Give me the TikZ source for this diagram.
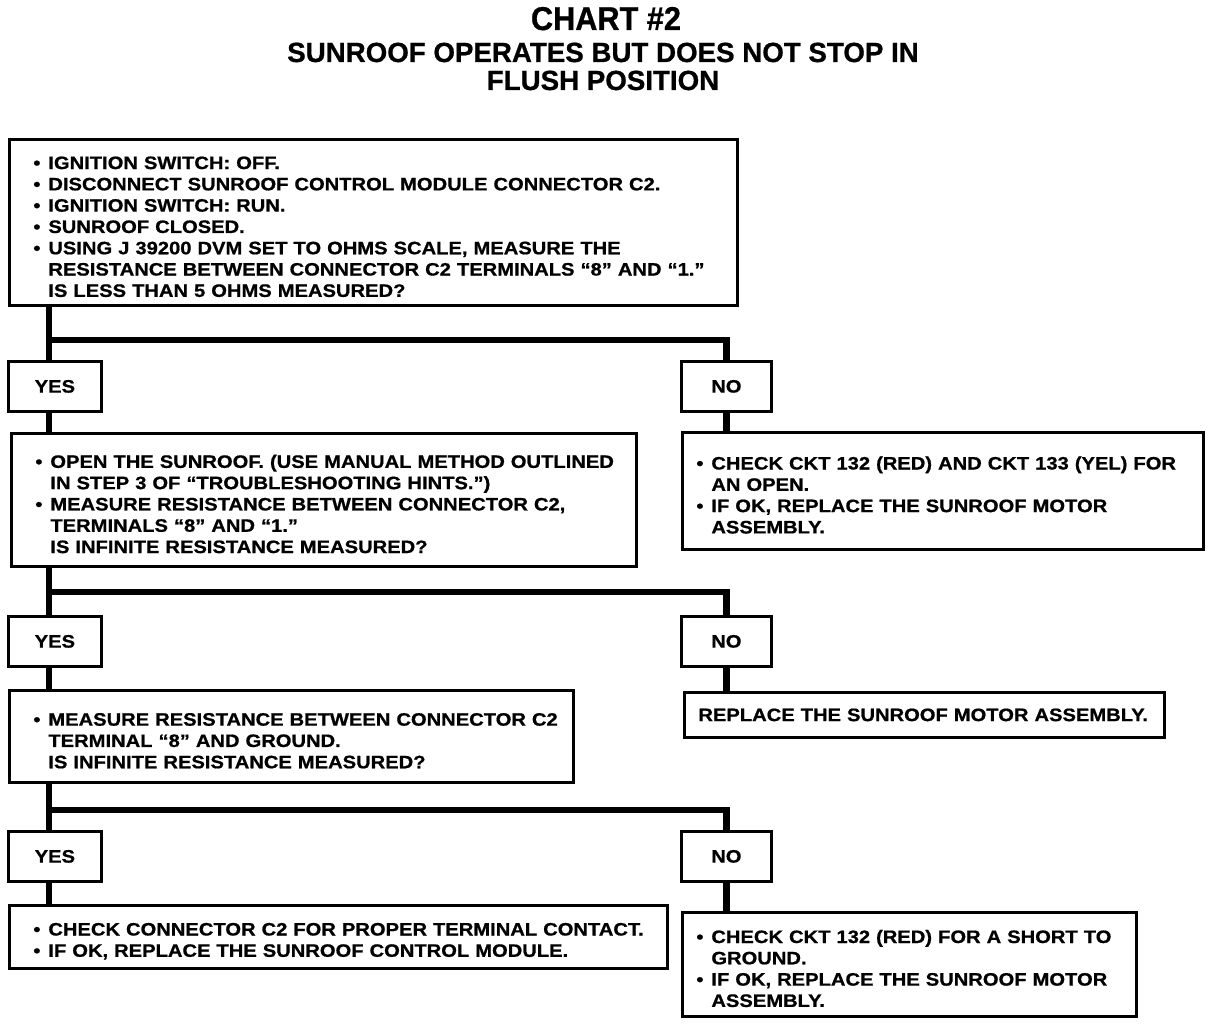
\documentclass[tikz,border=0pt]{standalone}
\usepackage{fontspec}
\usepackage{tikz}
\newfontfamily\chartfont{Liberation Sans}[FakeStretch = 1.12, BoldFeatures = {FakeBold = 0.8}]
\newfontfamily\headfont{Liberation Sans}[BoldFeatures = {FakeBold = 0.8}]
\newfontfamily\titlefont{Liberation Sans}[FakeStretch = 0.93, BoldFeatures = {FakeBold = 0.8}]
\newcommand{\itm}[1]{\par\noindent\makebox[15pt][l]{\textbullet}\mbox{#1}}
\newcommand{\nxt}[1]{\par\noindent\hspace*{15pt}\mbox{#1}}
\tikzset{box/.style = {draw, line width = 2.8pt, fill = white, anchor = north west, align = left, inner xsep = 24pt, inner ysep = 0pt, font = \chartfont\bfseries\fontsize{18}{21.3}\selectfont}}
\tikzset{rbox/.style = {box, inner xsep = 14pt}}
\tikzset{answer/.style = {draw, line width = 2.8pt, fill = white, anchor = north west, minimum width = 93pt, minimum height = 50pt, font = \chartfont\bfseries\fontsize{18}{21.3}\selectfont}}
\tikzset{head/.style = {anchor = base, font = \headfont\bfseries\fontsize{27.7}{30}\selectfont}}
\tikzset{link/.style = {-, line width = 6.5pt}}

\begin{document}
\begin{tikzpicture}[x = 1pt, y = -1pt]
				\useasboundingbox (0, 0) rectangle (1216, 1024);

				\node[head, font = \titlefont\bfseries\fontsize{33}{33}\selectfont] (t) at (606, 30) {CHART \#2};
				\node[head] (s1) at (603, 62) {SUNROOF OPERATES BUT DOES NOT STOP IN};
				\node[head] (s2) at (603, 90) {FLUSH POSITION};

				\node[box, minimum width = 728pt, minimum height = 166pt, text width = 680pt] (q1) at (8, 138) {
					\itm{IGNITION SWITCH: OFF.}
					\itm{DISCONNECT SUNROOF CONTROL MODULE CONNECTOR C2.}
					\itm{IGNITION SWITCH: RUN.}
					\itm{SUNROOF CLOSED.}
					\itm{USING J 39200 DVM SET TO OHMS SCALE, MEASURE THE}
					\nxt{RESISTANCE BETWEEN CONNECTOR C2 TERMINALS “8” AND “1.”}
					\nxt{IS LESS THAN 5 OHMS MEASURED?}};

				\node[answer] (y1) at (7, 360) {YES};
				\node[answer, minimum width = 90pt] (n1) at (680, 360) {NO};

				\node[box, minimum width = 625pt, minimum height = 133pt, text width = 577pt] (q2) at (10, 432) {
					\itm{OPEN THE SUNROOF. (USE MANUAL METHOD OUTLINED}
					\nxt{IN STEP 3 OF “TROUBLESHOOTING HINTS.”)}
					\itm{MEASURE RESISTANCE BETWEEN CONNECTOR C2,}
					\nxt{TERMINALS “8” AND “1.”}
					\nxt{IS INFINITE RESISTANCE MEASURED?}};
				\node[rbox, minimum width = 521pt, minimum height = 117pt, text width = 493pt] (r1) at (681, 431) {
					\itm{CHECK CKT 132 (RED) AND CKT 133 (YEL) FOR}
					\nxt{AN OPEN.}
					\itm{IF OK, REPLACE THE SUNROOF MOTOR}
					\nxt{ASSEMBLY.}};

				\node[answer] (y2) at (7, 615) {YES};
				\node[answer, minimum width = 90pt] (n2) at (680, 615) {NO};

				\node[box, minimum width = 564pt, minimum height = 92pt, text width = 516pt] (q3) at (8, 689) {
					\itm{MEASURE RESISTANCE BETWEEN CONNECTOR C2}
					\nxt{TERMINAL “8” AND GROUND.}
					\nxt{IS INFINITE RESISTANCE MEASURED?}};
				\node[rbox, minimum width = 480pt, minimum height = 45pt, text width = 452pt] (r2) at (683, 691) {
					\mbox{REPLACE THE SUNROOF MOTOR ASSEMBLY.}};

				\node[answer] (y3) at (7, 830) {YES};
				\node[answer, minimum width = 90pt] (n3) at (680, 830) {NO};

				\node[box, minimum width = 658pt, minimum height = 63pt, text width = 610pt] (r3) at (8, 904) {
					\itm{CHECK CONNECTOR C2 FOR PROPER TERMINAL CONTACT.}
					\itm{IF OK, REPLACE THE SUNROOF CONTROL MODULE.}};
				\node[rbox, minimum width = 454pt, minimum height = 104pt, text width = 426pt] (r4) at (681, 911) {
					\itm{CHECK CKT 132 (RED) FOR A SHORT TO}
					\nxt{GROUND.}
					\itm{IF OK, REPLACE THE SUNROOF MOTOR}
					\nxt{ASSEMBLY.}};

				\coordinate (j1) at (49, 340);
				\coordinate (j2) at (49, 592);
				\coordinate (j3) at (49, 810);

				\draw[link] (q1.south -| j1) to (y1.north -| j1);
				\draw[link] (j1) -| (n1.north);
				\draw[link] (y1.south -| j1) to (q2.north -| j1);
				\draw[link] (n1.south) to (n1.south |- r1.north);

				\draw[link] (q2.south -| j2) to (y2.north -| j2);
				\draw[link] (j2) -| (n2.north);
				\draw[link] (y2.south -| j2) to (q3.north -| j2);
				\draw[link] (n2.south) to (n2.south |- r2.north);

				\draw[link] (q3.south -| j3) to (y3.north -| j3);
				\draw[link] (j3) -| (n3.north);
				\draw[link] (y3.south -| j3) to (r3.north -| j3);
				\draw[link] (n3.south) to (n3.south |- r4.north);
			\end{tikzpicture}
\end{document}
